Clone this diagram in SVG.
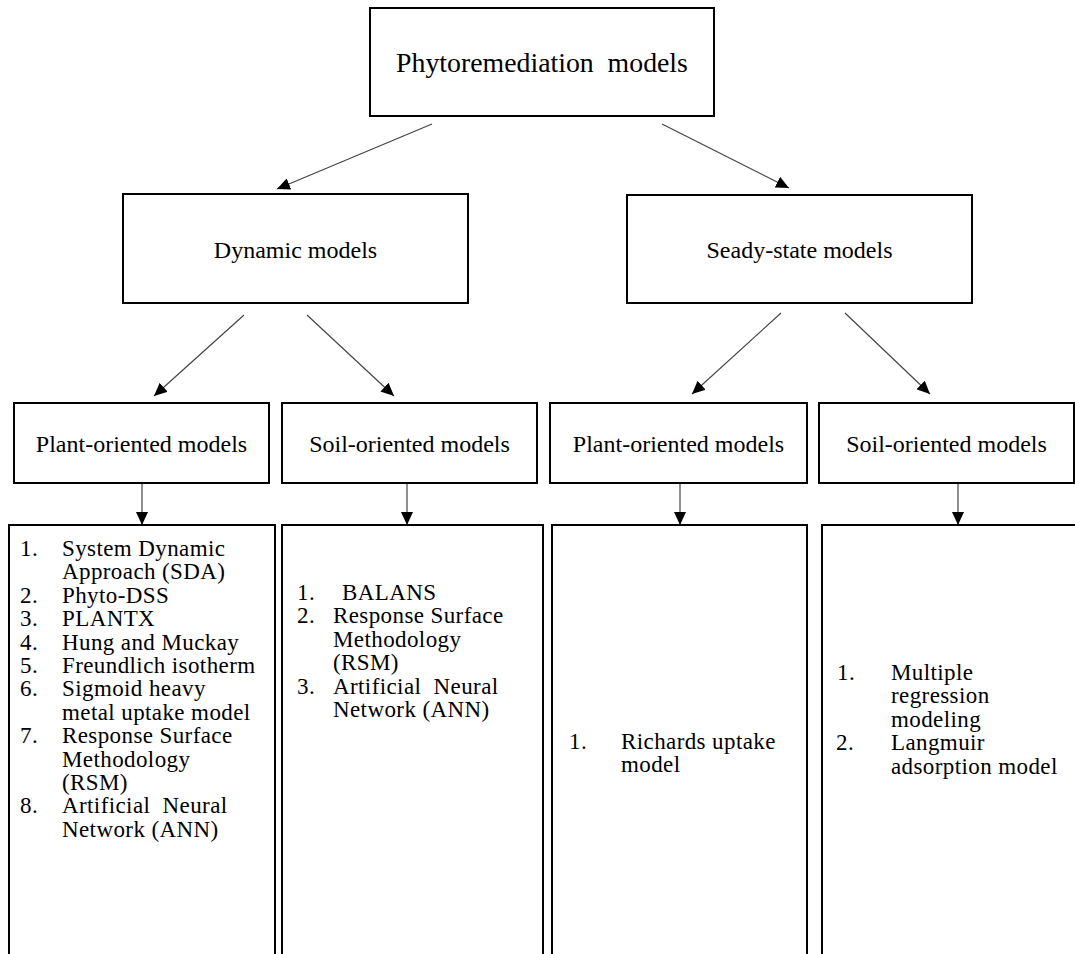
<svg xmlns="http://www.w3.org/2000/svg" width="1075" height="954" viewBox="0 0 1075 954">
<defs>
<marker id="ah" markerWidth="14" markerHeight="12" refX="13" refY="6" orient="auto" markerUnits="userSpaceOnUse"><path d="M0,0 L13,6 L0,12 Z" fill="#000"/></marker>
</defs>
<style>
.box{fill:#fff;stroke:#000;stroke-width:2}
.t{font-family:'Liberation Serif','Times New Roman',Tinos,'DejaVu Serif',serif;font-size:24px;fill:#000}
.l{font-size:23px;letter-spacing:0.4px}
.c{text-anchor:middle}
.edge{stroke:#444;stroke-width:1.2;fill:none;marker-end:url(#ah)}
</style>
<rect width="1075" height="954" fill="#fff"/>
<g id="connectors">
<line class="edge" x1="432" y1="124" x2="277" y2="189"/>
<line class="edge" x1="662" y1="124" x2="789" y2="188"/>
<line class="edge" x1="244" y1="315" x2="154" y2="396"/>
<line class="edge" x1="307" y1="315" x2="394" y2="396"/>
<line class="edge" x1="781" y1="313" x2="692" y2="394"/>
<line class="edge" x1="845" y1="313" x2="930" y2="394"/>
<line class="edge" x1="142" y1="484" x2="142" y2="525"/>
<line class="edge" x1="407" y1="484" x2="407" y2="525"/>
<line class="edge" x1="680" y1="484" x2="680" y2="525"/>
<line class="edge" x1="958" y1="484" x2="958" y2="525"/>
</g>
<g id="n-root"><rect class="box" x="370" y="8" width="344" height="108"/><text class="t c" x="542" y="72" style="font-size:27.8px">Phytoremediation&#160; models</text></g>
<g id="n-dynamic"><rect class="box" x="123" y="194" width="345" height="109"/><text class="t c" x="295.5" y="258">Dynamic models</text></g>
<g id="n-steady"><rect class="box" x="627" y="195" width="345" height="108"/><text class="t c" x="799.5" y="258">Seady-state models</text></g>
<g id="n-dyn-plant"><rect class="box" x="14" y="403" width="255" height="80"/><text class="t c" x="141.5" y="452">Plant-oriented models</text></g>
<g id="n-dyn-soil"><rect class="box" x="282" y="403" width="255" height="80"/><text class="t c" x="409.5" y="452">Soil-oriented models</text></g>
<g id="n-st-plant"><rect class="box" x="550" y="403" width="257" height="80"/><text class="t c" x="678.5" y="452">Plant-oriented models</text></g>
<g id="n-st-soil"><rect class="box" x="819" y="403" width="255" height="80"/><text class="t c" x="946.5" y="452">Soil-oriented models</text></g>
<g id="n-list-dyn-plant"><rect class="box" x="9" y="525" width="266" height="460"/>
<text class="t l"><tspan x="20" y="556">1.</tspan><tspan x="62" y="556">System Dynamic</tspan><tspan
 x="62" y="579.4">Approach (SDA)</tspan><tspan
 x="20" y="602.8">2.</tspan><tspan x="62" y="602.8">Phyto-DSS</tspan><tspan
 x="20" y="626.2">3.</tspan><tspan x="62" y="626.2">PLANTX</tspan><tspan
 x="20" y="649.6">4.</tspan><tspan x="62" y="649.6">Hung and Muckay</tspan><tspan
 x="20" y="673">5.</tspan><tspan x="62" y="673">Freundlich isotherm</tspan><tspan
 x="20" y="696.4">6.</tspan><tspan x="62" y="696.4">Sigmoid heavy</tspan><tspan
 x="62" y="719.8">metal uptake model</tspan><tspan
 x="20" y="743.2">7.</tspan><tspan x="62" y="743.2">Response Surface</tspan><tspan
 x="62" y="766.6">Methodology</tspan><tspan
 x="62" y="790">(RSM)</tspan><tspan
 x="20" y="813.4">8.</tspan><tspan x="62" y="813.4">Artificial&#160; Neural</tspan><tspan
 x="62" y="836.8">Network (ANN)</tspan></text>
</g>
<g id="n-list-dyn-soil"><rect class="box" x="282" y="525" width="261" height="460"/>
<text class="t l"><tspan x="297" y="600">1.</tspan><tspan x="342" y="600">BALANS</tspan><tspan
 x="297" y="623.4">2.</tspan><tspan x="333" y="623.4">Response Surface</tspan><tspan
 x="333" y="646.8">Methodology</tspan><tspan
 x="333" y="670.2">(RSM)</tspan><tspan
 x="297" y="693.6">3.</tspan><tspan x="333" y="693.6">Artificial&#160; Neural</tspan><tspan
 x="333" y="717">Network (ANN)</tspan></text>
</g>
<g id="n-list-st-plant"><rect class="box" x="552" y="525" width="255" height="460"/>
<text class="t l"><tspan x="569" y="749">1.</tspan><tspan x="621" y="749">Richards uptake</tspan><tspan
 x="621" y="772.4">model</tspan></text>
</g>
<g id="n-list-st-soil"><rect class="box" x="822" y="525" width="270" height="460"/>
<text class="t l"><tspan x="837" y="680">1.</tspan><tspan x="891" y="680">Multiple</tspan><tspan
 x="891" y="703.4">regression</tspan><tspan
 x="891" y="726.8">modeling</tspan><tspan
 x="836" y="750.2">2.</tspan><tspan x="891" y="750.2">Langmuir</tspan><tspan
 x="891" y="773.6">adsorption model</tspan></text>
</g>
</svg>
